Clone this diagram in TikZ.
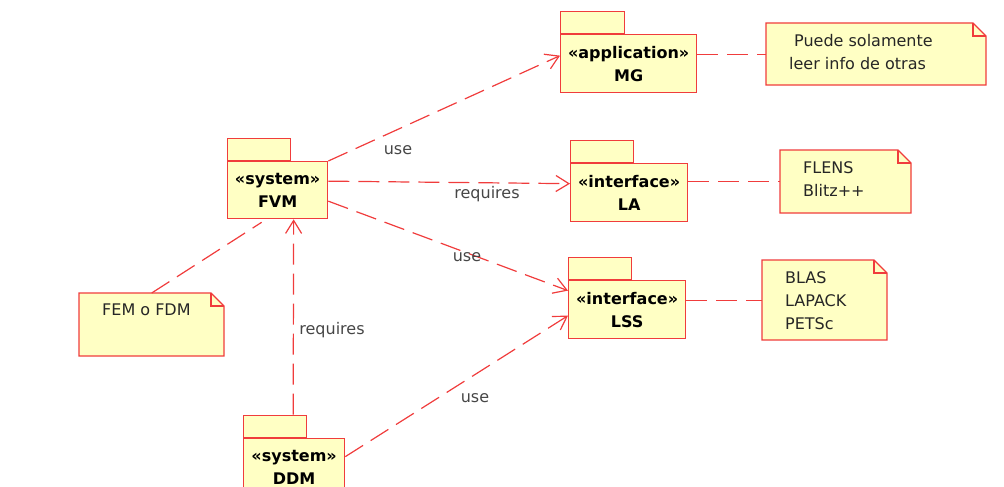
\documentclass[tikz,border=0pt]{standalone}
\usepackage{fontspec}
\setmainfont{DejaVu Sans}
\usetikzlibrary{arrows.meta,calc}

\definecolor{pkgfill}{RGB}{255,255,196}
\definecolor{pkgline}{RGB}{240,60,60}
\definecolor{lblgray}{RGB}{70,70,70}

\tikzset{
  pkgbody/.style={draw=pkgline, fill=pkgfill, line width=1.3pt, anchor=north west, inner sep=0pt, align=center, font=\fontsize{16}{23}\selectfont\bfseries},
  pkgtab/.style={draw=pkgline, fill=pkgfill, line width=1.3pt, anchor=south west, inner sep=0pt, minimum width=63pt, minimum height=22pt},
  notebox/.style={draw=pkgline, fill=pkgfill, line width=1.3pt},
  notetext/.style={anchor=north west, inner sep=0pt, align=left, font=\fontsize{16}{23}\selectfont, text=black!85},
  dep/.style={draw=pkgline, line width=1.2pt, dash pattern=on 21pt off 9pt},
  usearrow/.style={dep, -{Straight Barb[length=13pt,width=16pt]}},
  lbl/.style={inner sep=1pt, text=lblgray, font=\fontsize{16}{20}\selectfont}
}

% note with folded corner: name, x1, y1, x2, y2, text
\newcommand{\umlnote}[6]{%
  \draw[notebox] (#2,#3) -- ({#4-13},#3) -- (#4,{#3+13}) -- (#4,#5) -- (#2,#5) -- cycle;
  \draw[notebox, fill=none] ({#4-13},#3) -- ({#4-13},{#3+13}) -- (#4,{#3+13});
  \node[inner sep=0pt, minimum width={#4-#2}, minimum height={#5-#3}, anchor=north west] (#1) at (#2,#3) {};
  \node[notetext] at ($(#1.north west)+(23,11)$) {#6};
}

\begin{document}
\begin{tikzpicture}[x=1pt,y=1pt,yscale=-1,xscale=1]
\useasboundingbox (0,0) rectangle (1004,487);

% packages
\node[pkgbody, minimum width=136pt, minimum height=58pt] (mg) at (560,34) {«application»\\MG};
\node[pkgtab, minimum width=64pt] (mgtab) at (mg.north west) {};
\node[pkgbody, minimum width=100pt, minimum height=57pt] (fvm) at (227,161) {«system»\\FVM};
\node[pkgtab] (fvmtab) at (fvm.north west) {};
\node[pkgbody, minimum width=117pt, minimum height=58pt] (la) at (570,163) {«interface»\\LA};
\node[pkgtab] (latab) at (la.north west) {};
\node[pkgbody, minimum width=117pt, minimum height=58pt] (lss) at (568,280) {«interface»\\LSS};
\node[pkgtab] (lsstab) at (lss.north west) {};
\node[pkgbody, minimum width=101pt, minimum height=58pt] (ddm) at (243,438) {«system»\\DDM};
\node[pkgtab] (ddmtab) at (ddm.north west) {};

% notes
\umlnote{notemg}{766}{23}{986}{85}{\hspace*{5pt}Puede solamente\\leer info de otras}
\umlnote{notela}{780}{150}{911}{213}{FLENS\\Blitz++}
\umlnote{notelss}{762}{260}{887}{340}{BLAS\\LAPACK\\PETSc}
\umlnote{notefem}{79}{293}{224}{356}{FEM o FDM}

% dependencies (yshift runs downwards here)
\draw[usearrow] (fvm.north east) -- ([yshift=-8pt]mg.west);
\draw[usearrow] ([yshift=-9pt]fvm.east) -- ([yshift=-9pt]la.west);
\draw[usearrow] ([yshift=11pt]fvm.east) -- ([yshift=-19pt]lss.west);
\draw[usearrow] ([xshift=18pt]ddmtab.north) -- ([xshift=16pt]fvm.south);
\draw[usearrow] ([yshift=-11pt]ddm.east) -- ([yshift=6pt]lss.west);

% note links
\draw[dep] (notefem.north) -- ([xshift=-16pt,yshift=3pt]fvm.south);
\draw[dep] (notemg.west -| mg.east) -- (notemg.west);
\draw[dep] (notela.west -| la.east) -- (notela.west);
\draw[dep] (notelss.west -| lss.east) -- (notelss.west);

% labels
\node[lbl] (usemg) at (398,150) {use};
\node[lbl] (reqla) at (487,194) {requires};
\node[lbl] (uselss) at (467,257) {use};
\node[lbl] (reqfvm) at (332,330) {requires};
\node[lbl] (useddm) at (475,398) {use};

\end{tikzpicture}
\end{document}
